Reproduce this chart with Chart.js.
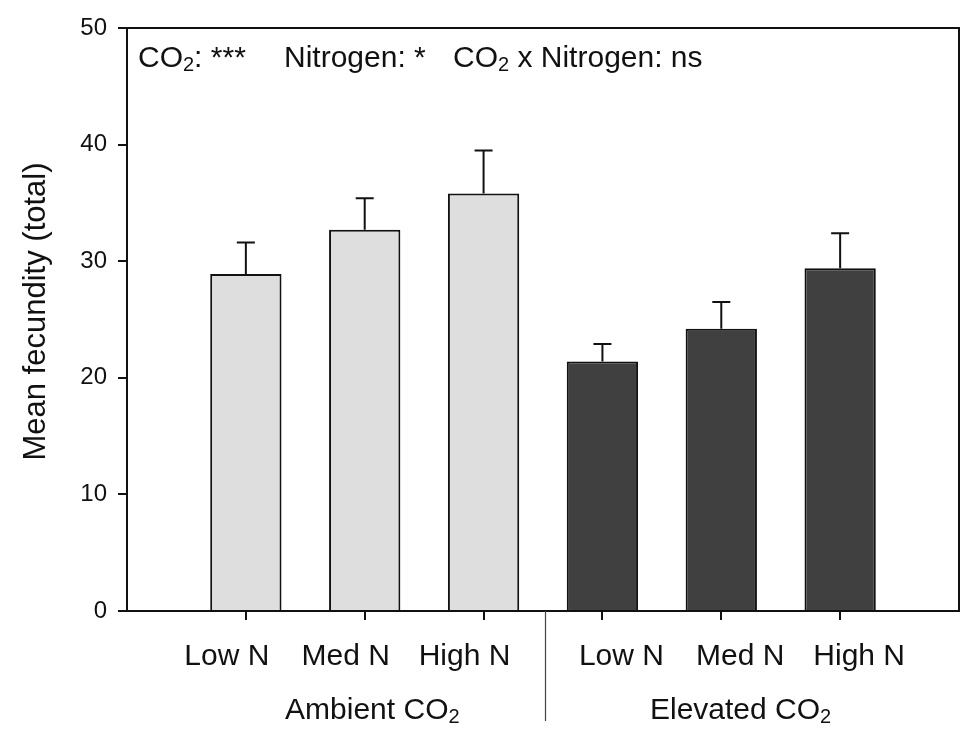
<!DOCTYPE html>
<html>
<head>
<meta charset="utf-8">
<script src="https://cdn.jsdelivr.net/npm/chart.js@4/dist/chart.umd.min.js"></script>
<style>
  html, body { margin: 0; padding: 0; background: #fff; }
  #wrap { width: 975px; height: 741px; }
</style>
</head>
<body>
<div id="wrap"><canvas id="myChart" width="975" height="741"></canvas></div>
<script>
// values
const nLevels = ['Low N', 'Med N', 'High N'];
const co2Groups = ['Ambient CO', 'Elevated CO'];
const ambientMean = [28.9, 32.7, 35.8];
const ambientErr = [2.7, 2.7, 3.7];
const elevatedMean = [21.4, 24.2, 29.4];
const elevatedErr = [1.5, 2.3, 3.0];
const yTicks = [0, 10, 20, 30, 40, 50];

const FONT = '"Liberation Sans", Arial, Helvetica, sans-serif';

// bar slots 1..3 and 4..6 on a 0..7 axis
const ambientX = nLevels.map((_, i) => i + 1);
const elevatedX = nLevels.map((_, i) => i + 4);
// tick labels sit a little off the tick marks in the original
const labelX = ambientX.map(v => v - 0.16).concat(elevatedX.map(v => v + 0.16));

function withSub(ctx, x, y, main, sub, rest, size) {
    ctx.font = size + 'px ' + FONT;
    ctx.fillText(main, x, y);
    x += ctx.measureText(main).width;
    ctx.font = Math.round(size * 0.66) + 'px ' + FONT;
    ctx.fillText(sub, x, y + 4);
    x += ctx.measureText(sub).width;
    ctx.font = size + 'px ' + FONT;
    ctx.fillText(rest, x, y);
}

const extras = {
    id: 'extras',
    afterDatasetsDraw(chart) {
        const ctx = chart.ctx;
        const y = chart.scales.y;
        const sets = [ambientErr, elevatedErr];
        const means = [ambientMean, elevatedMean];
        ctx.save();
        ctx.strokeStyle = '#111';
        ctx.lineWidth = 2;
        chart.data.datasets.forEach((ds, d) => {
            chart.getDatasetMeta(d).data.forEach((bar, i) => {
                const top = y.getPixelForValue(means[d][i] + sets[d][i]);
                ctx.beginPath();
                ctx.moveTo(bar.x, bar.y);
                ctx.lineTo(bar.x, top);
                ctx.moveTo(bar.x - 9, top);
                ctx.lineTo(bar.x + 9, top);
                ctx.stroke();
            });
        });
        ctx.restore();
    },
    afterDraw(chart) {
        const ctx = chart.ctx;
        const a = chart.chartArea;
        const x = chart.scales.x;
        ctx.save();
        // box
        ctx.strokeStyle = '#111';
        ctx.lineWidth = 2;
        ctx.beginPath();
        ctx.moveTo(a.left, a.top);
        ctx.lineTo(a.right, a.top);
        ctx.lineTo(a.right, a.bottom);
        ctx.stroke();
        // divider between groups
        ctx.strokeStyle = '#444';
        ctx.lineWidth = 1.2;
        const dx = Math.round(x.getPixelForValue(3.5)) + 2.5;
        ctx.beginPath();
        ctx.moveTo(dx, a.bottom);
        ctx.lineTo(dx, 721);
        ctx.stroke();

        ctx.fillStyle = '#111';
        ctx.textBaseline = 'alphabetic';
        ctx.textAlign = 'left';
        // significance note
        withSub(ctx, a.left + 11, 67, 'CO', '2', ': ***', 30);
        ctx.font = '30px ' + FONT;
        ctx.fillText('Nitrogen: *', a.left + 157, 67);
        withSub(ctx, a.left + 326, 67, 'CO', '2', ' x Nitrogen: ns', 30);
        // group labels
        withSub(ctx, x.getPixelForValue(1.33), 719, co2Groups[0], '2', '', 30);
        withSub(ctx, x.getPixelForValue(4.40), 719, co2Groups[1], '2', '', 30);
        // y title
        ctx.translate(45, (a.top + a.bottom) / 2 - 8);
        ctx.rotate(-Math.PI / 2);
        ctx.textAlign = 'center';
        ctx.font = '31px ' + FONT;
        ctx.fillText('Mean fecundity (total)', 0, 0);
        ctx.restore();
    }
};

const chartData = {
    type: 'bar',
    data: {
        datasets: [{
            label: co2Groups[0],
            xAxisID: 'x',
            yAxisID: 'y',
            data: ambientX.map((v, i) => ({ x: v, y: ambientMean[i] })),
            backgroundColor: '#dedede',
            borderColor: '#111',
            borderWidth: 2,
            borderSkipped: 'bottom',
            grouped: false,
            barPercentage: 0.6,
            categoryPercentage: 1
        }, {
            label: co2Groups[1],
            xAxisID: 'x',
            yAxisID: 'y',
            data: elevatedX.map((v, i) => ({ x: v, y: elevatedMean[i] })),
            backgroundColor: '#404040',
            borderColor: '#111',
            borderWidth: 2,
            borderSkipped: 'bottom',
            grouped: false,
            barPercentage: 0.6,
            categoryPercentage: 1
        }]
    },
    options: {
        responsive: false,
        animation: false,
        layout: { padding: { top: 28, right: 16, left: 0, bottom: 0 } },
        plugins: { legend: { display: false }, tooltip: { enabled: false } },
        scales: {
            x: {
                type: 'linear', position: 'bottom', min: 0, max: 7, weight: 0, offset: false,
                afterBuildTicks: s => { s.ticks = ambientX.concat(elevatedX).map(v => ({ value: v })); },
                afterFit: s => { s.height = 9; },
                ticks: { display: false },
                grid: { offset: false, drawOnChartArea: false, tickLength: 9, color: '#111', lineWidth: 2 },
                border: { color: '#111', width: 2 }
            },
            xl: {
                type: 'linear', position: 'bottom', min: 0, max: 7, weight: 1, offset: false,
                afterBuildTicks: s => { s.ticks = labelX.map(v => ({ value: v })); },
                afterFit: s => { s.height = 121; },
                ticks: {
                    autoSkip: false, maxRotation: 0, padding: 11, color: '#111',
                    font: { family: FONT, size: 30 },
                    callback: (v, i) => nLevels[i % 3]
                },
                grid: { display: false, offset: false },
                border: { display: false }
            },
            y: {
                min: 0, max: 50,
                afterBuildTicks: s => { s.ticks = yTicks.map(v => ({ value: v })); },
                afterFit: s => { s.width = 127; },
                ticks: { padding: 11, color: '#111', font: { family: FONT, size: 24 } },
                grid: { drawOnChartArea: false, tickLength: 9, color: '#111', lineWidth: 2 },
                border: { color: '#111', width: 2 }
            }
        }
    },
    plugins: [extras]
};

const ctx = document.getElementById('myChart').getContext('2d');
const myChart = new Chart(ctx, chartData);
</script>
</body>
</html>
